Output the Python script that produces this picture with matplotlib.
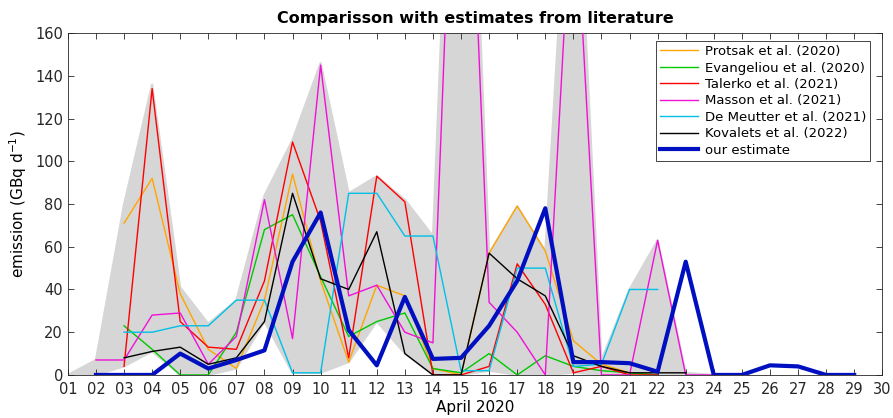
import matplotlib.pyplot as plt
import numpy as np

nan = np.nan
days = np.arange(1, 31)
day_labels = ['%02d' % d for d in days]

# values per day (01..30), nan = no estimate
protsak = [nan, nan, 71, 92, 38, 12, 3, 35, 94, 44, 6, 42, 37, 3, 0, 57, 79, 58, 16, 5, 1,
           nan, nan, nan, nan, nan, nan, nan, nan, nan]
evangeliou = [nan, nan, 23, 12, 0, 0, 20, 68, 75, 46, 18, 25, 29, 3, 1, 10, 0, 9, 4, 2, 1, 0,
              nan, nan, nan, nan, nan, nan, nan, nan]
talerko = [nan, nan, 4, 134, 25, 13, 12, 44, 109, 72, 8, 93, 81, 0, 0, 4, 52, 33, 1, 4, 0, 0,
           nan, nan, nan, nan, nan, nan, nan, nan]
masson = [nan, 7, 7, 28, 29, 5, 18, 82, 17, 145, 37, 42, 20, 15, 355, 34, 20, 0, 240, 0, 0, 63,
          0, 0, nan, nan, nan, nan, nan, nan]
demeutter = [nan, nan, 20, 20, 23, 23, 35, 35, 1, 1, 85, 85, 65, 65, 2, 2, 50, 50, 4, 5, 40, 40,
             nan, nan, nan, nan, nan, nan, nan, nan]
kovalets = [nan, nan, 8, 11, 13, 5, 8, 25, 85, 45, 40, 67, 10, 0, 0, 57, 45, 37, 9, 4, 1, 1, 1,
            nan, nan, nan, nan, nan, nan, nan]
ours = [nan, 0, 0, 0, 10, 3, 7, 11.5, 53, 76, 21, 4.5, 36.5, 7.5, 8, 23, 44, 78, 6, 6, 5.5, 1.5,
        53, 0, 0, 4.5, 4, 0, 0, nan]

# grey range of the literature estimates
env_hi = [0, 7, 80, 136, 41, 24, 35, 84, 110, 146, 85, 93, 82, 65, 390, 57, 79, 58, 280, 7, 40,
          63, 1, 0, nan, nan, nan, nan, nan, nan]
env_lo = [0, 0, 4, 11, 0, 0, 3, 25, 1, 1, 6, 25, 10, 0, 0, 2, 0, 0, 1, 0, 0, 0, 0, 0,
          nan, nan, nan, nan, nan, nan]

series = [
    ('Protsak et al. (2020)', protsak, '#FFA500'),
    ('Evangeliou et al. (2020)', evangeliou, '#00C800'),
    ('Talerko et al. (2021)', talerko, '#FF0000'),
    ('Masson et al. (2021)', masson, '#F010D8'),
    ('De Meutter et al. (2021)', demeutter, '#00C0E8'),
    ('Kovalets et al. (2022)', kovalets, '#000000'),
]

fig = plt.figure(figsize=(8.93, 4.18), dpi=100)
ax = fig.add_axes([0.076, 0.103, 0.912, 0.818])

hi = np.array(env_hi, dtype=float)
lo = np.array(env_lo, dtype=float)
ok = ~np.isnan(hi)
ax.fill_between(days[ok], lo[ok], hi[ok], color='#D6D6D6', edgecolor='#D6D6D6', lw=1.5, zorder=1)

for name, vals, col in series:
    ax.plot(days, vals, color=col, lw=1.0, label=name, zorder=3)
ax.plot(days, ours, color='#0010C0', lw=3.0, label='our estimate', zorder=4)

ax.set_xlim(1, 30)
ax.set_ylim(0, 160)
ax.set_xticks(days)
ax.set_xticklabels(day_labels)
ax.set_yticks(np.arange(0, 161, 20))
ax.tick_params(direction='in', top=True, right=True, labelsize=10.5, colors='#262626',
               length=4, width=0.6)
ax.tick_params(axis='x', pad=5)
for s in ax.spines.values():
    s.set_color('#262626')
    s.set_linewidth(0.6)

ax.set_xlabel('April 2020', fontsize=11, labelpad=2)
ax.set_ylabel('emission (GBq d$^{-1}$)', fontsize=11)
ax.set_title('Comparisson with estimates from literature', fontsize=11.5, fontweight='bold', pad=7)

leg = ax.legend(loc='upper right', bbox_to_anchor=(0.9885, 0.984), fontsize=9.5, handlelength=2.9,
                handletextpad=0.5, labelspacing=0.26, borderpad=0.3, borderaxespad=0.2,
                fancybox=False, framealpha=1, edgecolor='#262626')
leg.get_frame().set_linewidth(0.6)

plt.savefig('out.png', dpi=100)
